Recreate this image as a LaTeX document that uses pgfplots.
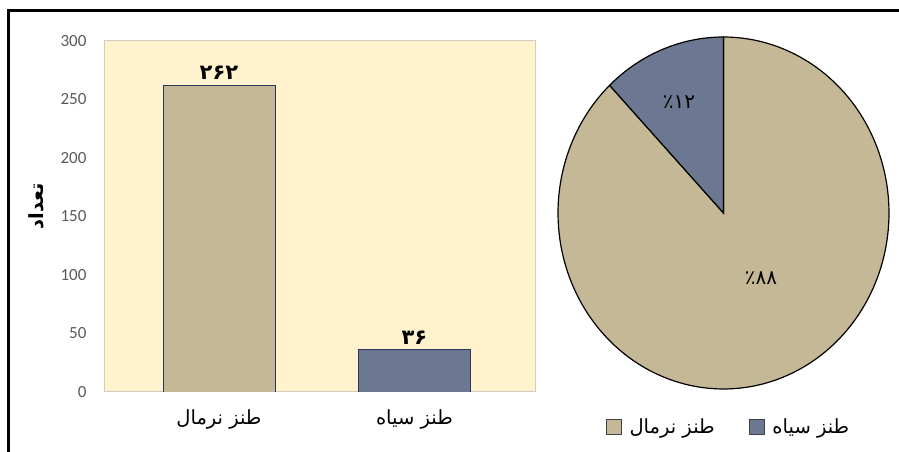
\documentclass[border=0pt]{standalone}
\usepackage{pgfplots}
\pgfplotsset{compat=1.18}
\usepackage{fontspec}
\setmainfont{Carlito}
\newfontfamily\arabicfont[Script=Arabic]{DejaVu Sans}
\TeXXeTstate=1
\definecolor{tanc}{RGB}{196,184,150}
\definecolor{slate}{RGB}{108,120,145}
\definecolor{bgy}{RGB}{255,242,204}
\definecolor{tickgrey}{RGB}{89,89,89}
\definecolor{edgenavy}{RGB}{40,55,95}
\definecolor{bordergrey}{RGB}{210,205,195}
\begin{document}
\begin{tikzpicture}[x=1pt,y=1pt]
\useasboundingbox (0,0) rectangle (899,452);
\draw[line width=2.5pt] (8.5,0) -- (8.5,441.5) -- (899,441.5);
\begin{axis}[
  at={(104pt,60pt)}, anchor=south west,
  width=431pt, height=351pt, scale only axis,
  xmin=-0.588, xmax=1.617, ymin=0, ymax=300,
  ytick={0,50,...,300},
  xtick={0,1},
  xticklabels={{\arabicfont\beginR طنز نرمال\endR},{\arabicfont\beginR طنز سیاه\endR}},
  axis background/.style={fill=bgy},
  axis line style={draw=bordergrey, line width=1pt},
  major tick length=0pt,
  tick style={draw=none},
  /pgf/number format/assume math mode=true,
  yticklabel style={font=\fontsize{17}{20}\selectfont, text=tickgrey, xshift=-14pt},
  xticklabel style={font=\arabicfont\fontsize{19.5}{22}\selectfont, text=black, yshift=-14pt},
  ylabel={\arabicfont\bfseries\beginR تعداد\endR},
  ylabel style={font=\fontsize{19.5}{22}\selectfont, at={(axis description cs:-0.158,0.53)}, anchor=center},
  nodes near coords style={font=\arabicfont\bfseries\fontsize{21}{24}\selectfont, text=black, anchor=south, yshift=2pt},
]
\addplot[ybar, fill=tanc, draw=edgenavy, line width=0.8pt, bar width=112pt, bar shift=0pt,
  nodes near coords, point meta=explicit symbolic] coordinates {(0,262) [۲۶۲]};
\addplot[ybar, fill=slate, draw=edgenavy, line width=0.8pt, bar width=112pt, bar shift=0pt,
  nodes near coords, point meta=explicit symbolic] coordinates {(1,36) [۳۶]};
\end{axis}
\pgfmathsetmacro\angB{360*36/(262+36)}
\pgfmathsetmacro\angE{90+\angB}
\begin{axis}[
  at={(723.5pt,239pt)}, anchor=center,
  width=331pt, height=352pt, scale only axis,
  xmin=-1, xmax=1, ymin=-1, ymax=1,
  hide axis, clip=false,
  legend columns=2,
  legend style={draw=none, fill=none, at={(0.515,-0.108)}, anchor=center,
    font=\arabicfont\fontsize{19.5}{22}\selectfont,
    /tikz/every odd column/.append style={column sep=6pt},
    /tikz/every even column/.append style={column sep=32pt}},
  legend image code/.code={\draw[#1, draw=black!75, line width=0.8pt] (0pt,-7.5pt) rectangle (15pt,7.5pt);},
]
\addplot[fill=tanc, draw=black, line width=1.2pt, domain=\angE:450, samples=150] ({cos(x)},{sin(x)}) -- (axis cs:0,0) -- cycle;
\addlegendentry{\beginR طنز نرمال\endR}
\addplot[fill=slate, draw=black, line width=1.2pt, domain=90:\angE, samples=40] ({cos(x)},{sin(x)}) -- (axis cs:0,0) -- cycle;
\addlegendentry{\beginR طنز سیاه\endR}
\node[font=\arabicfont\fontsize{20}{22}\selectfont] at (axis cs:-0.269,0.631) {٪۱۲};
\node[font=\arabicfont\fontsize{20}{22}\selectfont] at (axis cs:0.227,-0.369) {٪۸۸};
\end{axis}
\end{tikzpicture}
\end{document}
